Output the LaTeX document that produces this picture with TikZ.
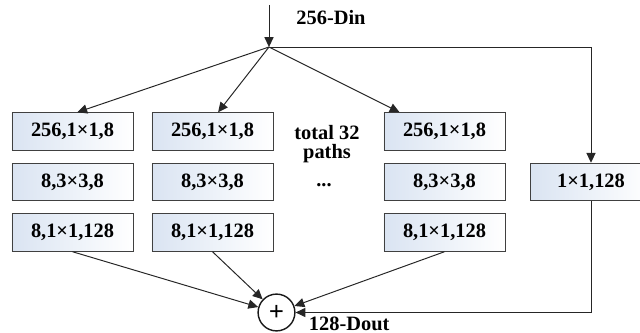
\documentclass[tikz,border=0pt]{standalone}
\usepackage{fontspec}
\setmainfont{Liberation Serif}
\newfontfamily\boxfont{Liberation Serif}
\usepackage{tikz}
\usetikzlibrary{arrows.meta}
\definecolor{boxblue}{RGB}{218,228,242}

\begin{document}
\begin{tikzpicture}[x=0.025cm,y=-0.025cm,
    every node/.style={font=\boxfont\bfseries\fontsize{14.5}{17}\selectfont},
    conv/.style={draw=black!75,line width=0.6pt,inner sep=0pt,
      minimum width=3.025cm,minimum height=0.94cm,
      left color=boxblue,right color=white},
    wire/.style={draw=black!85,line width=0.7pt},
    arr/.style={wire,-{Triangle[length=7pt,width=6.5pt]}}]

    \useasboundingbox (0,0) rectangle (640,333);

    \coordinate (in) at (269,5);
    \coordinate (s)  at (269,47);
    \node (din) at (331,18) {256-Din};

    % first path
    \node[conv] (a1) at (72.5,131.5)  {256,1×1,8};
    \node[conv] (a2) at (72.5,182)    {8,3×3,8};
    \node[conv] (a3) at (72.5,232.5)  {8,1×1,128};

    % second path
    \node[conv] (b1) at (212.5,131.5) {256,1×1,8};
    \node[conv] (b2) at (212.5,182)   {8,3×3,8};
    \node[conv] (b3) at (212.5,232.5) {8,1×1,128};

    % last path
    \node[conv] (c1) at (444.5,131.5) {256,1×1,8};
    \node[conv] (c2) at (444.5,182)   {8,3×3,8};
    \node[conv] (c3) at (444.5,232.5) {8,1×1,128};

    \node[align=center] (tot) at (327,144) {total 32\\[-3pt]paths};
    \node (dots) at (324,185) {...};

    % shortcut
    \node[conv] (d) at (591,182) {1×1,128};

    \node[circle,draw=black!90,line width=1pt,minimum size=0.92cm,inner sep=0pt,
      font=\boxfont\bfseries\fontsize{19}{19}\selectfont] (sum) at (276.5,312.5) {+};
    \node[anchor=west] (dout) at (304,324) {128-Dout};

    \draw[arr] (in) -- (s);
    \draw (s) edge[arr] ([xshift=0.12cm]a1.north);
    \draw (s) edge[arr] ([xshift=0.14cm]b1.north);
    \draw (s) edge[arr] ([xshift=0.4cm]c1.north west);
    \draw[arr] (s) -| (d.north);

    \draw (a3.south) edge[arr] (sum);
    \draw (b3.south) edge[arr] (sum);
    \draw (c3.south) edge[arr] (sum);
    \draw[arr] (d.south) |- (sum.east);
\end{tikzpicture}
\end{document}
